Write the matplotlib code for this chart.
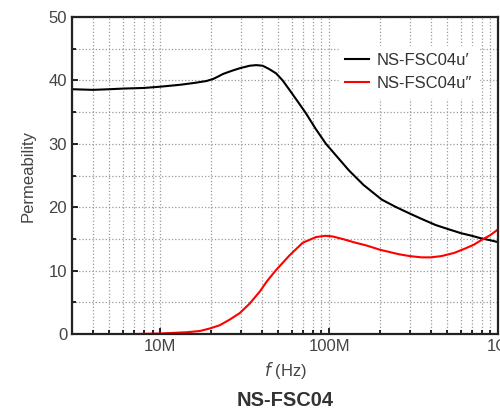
import matplotlib
matplotlib.use("Agg")
import matplotlib.pyplot as plt
from matplotlib.ticker import FixedLocator, NullFormatter, MultipleLocator

plt.rcParams['font.family'] = ['Liberation Sans', 'DejaVu Sans']

# real part u'
freq_re = [3e6, 4e6, 5e6, 6e6, 8e6, 10e6, 13.1e6, 16e6, 18.8e6, 20.5e6, 22e6, 23.5e6, 26.5e6,
           29.5e6, 33.8e6, 37e6, 40.4e6, 44e6, 48.5e6, 53e6, 58.2e6, 65e6, 72.9e6,
           83e6, 95.7e6, 114.5e6, 131e6, 160e6, 205e6, 250e6, 295e6, 350e6, 427e6,
           500e6, 606e6, 700e6, 793e6, 900e6, 1e9]
mu_re = [38.6, 38.5, 38.6, 38.7, 38.8, 39.0, 39.3, 39.6, 39.9, 40.2, 40.6, 41.0, 41.5,
         41.9, 42.3, 42.4, 42.3, 41.8, 41.1, 40.0, 38.5, 36.7, 34.8,
         32.4, 30.0, 27.6, 25.8, 23.5, 21.2, 20.0, 19.1, 18.2, 17.2,
         16.6, 15.9, 15.5, 15.1, 14.8, 14.5]

# imaginary part u''
freq_im = [6.8e6, 8e6, 10e6, 12e6, 14.4e6, 17.2e6, 19.7e6, 22.5e6, 25.8e6, 29.5e6,
           33.8e6, 38.8e6, 43e6, 48.5e6, 58.2e6, 69.7e6, 83.6e6, 95e6, 104.5e6, 120e6,
           143.6e6, 165e6, 200e6, 258e6, 300e6, 352e6, 400e6, 462e6, 550e6, 640e6,
           720e6, 794e6, 900e6, 1e9]
mu_im = [0.0, 0.05, 0.1, 0.2, 0.3, 0.5, 0.9, 1.4, 2.3, 3.3,
         4.8, 6.7, 8.4, 10.1, 12.4, 14.4, 15.3, 15.5, 15.4, 15.0,
         14.4, 14.0, 13.3, 12.6, 12.3, 12.1, 12.1, 12.3, 12.8, 13.5,
         14.1, 14.8, 15.6, 16.5]

fig = plt.figure(figsize=(5, 4.12), dpi=100)
ax = fig.add_axes([0.144, 0.189, 0.852, 0.770])

ax.plot(freq_re, mu_re, color='black', lw=1.5, label='NS-FSC04u\u2032')
ax.plot(freq_im, mu_im, color='red', lw=1.5, label='NS-FSC04u\u2033')

ax.set_xscale('log')
ax.set_xlim(3e6, 1e9)
ax.set_ylim(0, 50)
ax.xaxis.set_major_locator(FixedLocator([1e7, 1e8, 1e9]))
ax.set_xticklabels(['10M', '100M', '1G'])
ax.xaxis.set_minor_formatter(NullFormatter())
ax.yaxis.set_major_locator(MultipleLocator(10))
ax.yaxis.set_minor_locator(MultipleLocator(5))

ax.grid(True, which='both', linestyle=':', color='#999999', linewidth=0.9)
ax.tick_params(which='both', direction='in', top=False, right=False,
               labelsize=12, labelcolor='#444444', width=1.2)
ax.tick_params(which='major', length=4)
ax.tick_params(which='minor', length=3)
for s in ax.spines.values():
    s.set_linewidth(1.6)
    s.set_color('#222222')

ax.set_ylabel('Permeability', fontsize=12, color='#444444', labelpad=9)
ax.set_xlabel(r'$f$ (Hz)', fontsize=12, color='#444444', labelpad=4)

leg = ax.legend(loc='upper right', fontsize=12, frameon=True, fancybox=False,
                edgecolor='white', framealpha=1, handlelength=1.45,
                handletextpad=0.45, bbox_to_anchor=(0.975, 0.934),
                labelcolor='#333333')

fig.text(0.57, 0.029, 'NS-FSC04', ha='center', va='center', fontsize=14.5,
         fontweight='bold', color='#333333')

fig.savefig('out.png', dpi=100)
